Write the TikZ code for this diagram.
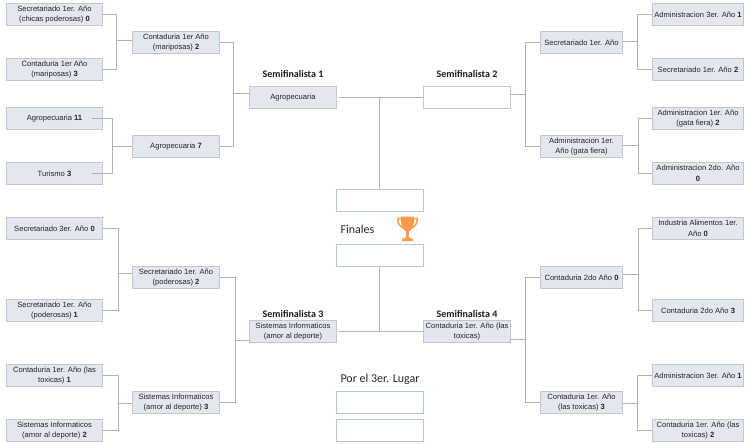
\documentclass[tikz,border=0pt]{standalone}
\usepackage{fontspec}
\setmainfont{Liberation Sans}
\newfontfamily\calfont{Carlito}
\definecolor{boxfill}{HTML}{E3E7F0}
\definecolor{boxline}{HTML}{C4C6CA}
\definecolor{blueline}{HTML}{B4C4DE}
\definecolor{conn}{HTML}{B0B0B0}
\definecolor{cup}{HTML}{F79A4B}
\newcommand{\bx}[7][teambox]{\node[#1,minimum width={(#5-#3)*1pt},minimum height={(#6-#4)*1pt}] (#2) at ({(#3+#5)/2},{(#4+#6)/2}) {#7};}
\begin{document}
\begin{tikzpicture}[x=1pt,y=-1pt,
  teambox/.style={draw=boxline,line width=1.4pt,fill=boxfill,inner sep=0pt,align=center,font=\fontsize{7.6}{10.5}\selectfont,text=black!85},
  whitebox/.style={draw=boxline,line width=1.4pt,fill=white,inner sep=0pt},
  finalbox/.style={draw=blueline,line width=1.4pt,fill=white,inner sep=0pt},
  link/.style={draw=conn,line width=1.2pt},
  semilabel/.style={font=\calfont\bfseries\fontsize{10}{12}\selectfont,inner sep=0pt,text=black!90},
  titlelabel/.style={font=\calfont\fontsize{12}{14}\selectfont,inner sep=0pt,text=black!85}]
\useasboundingbox (0,0) rectangle (750,444);
% left first round
\bx{a}{6.5}{3.5}{102.5}{25.5}{Secretariado 1er. Año\\(chicas poderosas) \textbf{0}}
\bx{b}{6.5}{58.5}{102.5}{80.5}{Contaduria 1er Año\\(mariposas) \textbf{3}}
\bx{c}{6.5}{107.5}{102.5}{129.5}{Agropecuaria \textbf{11}}
\bx{d}{6.5}{162.5}{102.5}{184.5}{Turismo \textbf{3}}
\bx{e}{6.5}{217.5}{102.5}{239.5}{Secretariado 3er. Año \textbf{0}}
\bx{f}{6.5}{299.5}{102.5}{321.5}{Secretariado 1er. Año\\(poderosas) \textbf{1}}
\bx{g}{6.5}{364.5}{102.5}{386.5}{Contaduria 1er. Año  (las\\toxicas) \textbf{1}}
\bx{h}{6.5}{419.5}{102.5}{441.5}{Sistemas Informaticos\\(amor al deporte) \textbf{2}}
% left second round
\bx{ab}{132.5}{31.5}{219.5}{53.5}{Contaduria 1er Año\\(mariposas) \textbf{2}}
\bx{cd}{132.5}{135.5}{219.5}{157.5}{Agropecuaria \textbf{7}}
\bx{ef}{132.5}{266.5}{219.5}{288.5}{Secretariado 1er. Año\\(poderosas) \textbf{2}}
\bx{gh}{132.5}{391.5}{219.5}{413.5}{Sistemas Informaticos\\(amor al deporte) \textbf{3}}
% semifinalists
\bx{s1}{249.5}{86.5}{336.5}{108.5}{Agropecuaria}
\bx[whitebox]{s2}{423.5}{86.5}{510.5}{108.5}{}
\bx{s3}{249.5}{320.5}{336.5}{342.5}{Sistemas Informaticos\\(amor al deporte)}
\bx{s4}{423.5}{320.5}{510.5}{342.5}{Contaduria 1er. Año  (las\\toxicas)}
% centre
\bx[finalbox]{f1}{336.5}{189.5}{423.5}{211.5}{}
\bx[finalbox]{f2}{336.5}{244.5}{423.5}{266.5}{}
\bx[finalbox]{t1}{336.5}{391.5}{423.5}{413.5}{}
\bx[finalbox]{t2}{336.5}{419.5}{423.5}{441.5}{}
% right second round
\bx{ij}{540.5}{31.5}{622.5}{53.5}{Secretariado 1er. Año}
\bx{kl}{540.5}{135.5}{622.5}{157.5}{Administracion 1er.\\Año (gata fiera)}
\bx{mn}{540.5}{266.5}{622.5}{288.5}{Contaduria 2do Año \textbf{0}}
\bx{op}{540.5}{391.5}{622.5}{413.5}{Contaduria 1er. Año\\(las toxicas) \textbf{3}}
% right first round
\bx{i}{652.5}{3.5}{743.5}{25.5}{Administracion 3er. Año \textbf{1}}
\bx{j}{652.5}{58.5}{743.5}{80.5}{Secretariado 1er. Año \textbf{2}}
\bx{k}{652.5}{107.5}{743.5}{129.5}{Administracion 1er. Año\\(gata fiera) \textbf{2}}
\bx{l}{652.5}{162.5}{743.5}{184.5}{Administracion 2do. Año\\\textbf{0}}
\bx{m}{652.5}{217.5}{743.5}{239.5}{Industria Alimentos 1er.\\Año \textbf{0}}
\bx{n}{652.5}{299.5}{743.5}{321.5}{Contaduria 2do Año \textbf{3}}
\bx{o}{652.5}{364.5}{743.5}{386.5}{Administracion 3er. Año \textbf{1}}
\bx{p}{652.5}{419.5}{743.5}{441.5}{Contaduria 1er. Año  (las\\toxicas) \textbf{2}}
% labels
\node[semilabel] (l1) at (293,74) {Semifinalista 1};
\node[semilabel] (l2) at (467,74) {Semifinalista 2};
\node[semilabel] (l3) at (293,314) {Semifinalista 3};
\node[semilabel] (l4) at (467,314) {Semifinalista 4};
\node[titlelabel] (fin) at (357.5,229.5) {Finales};
\node[titlelabel] (por) at (380,379) {Por el 3er. Lugar};
% junctions
\coordinate (jab) at (116.5,40.5);
\coordinate (jcd) at (112.5,146.5);
\coordinate (jef) at (118.5,273.5);
\coordinate (jgh) at (118.5,403.5);
\coordinate (js1) at (233.5,93.5);
\coordinate (js3) at (235.5,340.5);
\coordinate (js2) at (525.5,94.5);
\coordinate (js4) at (525.5,339.5);
\coordinate (jij) at (637.5,41.5);
\coordinate (jkl) at (638.5,145.5);
\coordinate (jmn) at (638.5,274.5);
\coordinate (jop) at (637.5,403.5);
% connectors
\draw[link] (a.east) -| (jab) (b.east) -| (jab) (jab) -- (ab.west |- jab);
\draw[link] ([xshift=-11pt]c.east) -| (jcd) ([xshift=-11pt]d.east) -| (jcd) (jcd) -- (cd.west |- jcd);
\draw[link] (e.east) -| (jef) (f.east) -| (jef) (jef) -- (ef.west |- jef);
\draw[link] (g.east) -| (jgh) (h.east) -| (jgh) (jgh) -- (gh.west |- jgh);
\draw[link] (ab.east) -| (js1) (cd.east) -| (js1) (js1) -- (s1.west |- js1);
\draw[link] (ef.east) -| (js3) (gh.east) -| (js3) (js3) -- (s3.west |- js3);
\draw[link] (s2.east |- js2) -- (js2) (ij.west) -| (js2) (kl.west) -| (js2);
\draw[link] (s4.east |- js4) -- (js4) (mn.west) -| (js4) (op.west) -| (js4);
\draw[link] (ij.east |- jij) -- (jij) (i.west) -| (jij) (j.west) -| (jij);
\draw[link] (kl.east |- jkl) -- (jkl) (k.west) -| (jkl) (l.west) -| (jkl);
\draw[link] (mn.east |- jmn) -- (jmn) (m.west) -| (jmn) (n.west) -| (jmn);
\draw[link] (op.east |- jop) -- (jop) (o.west) -| (jop) (p.west) -| (jop);
\draw[link] ([xshift=2pt]s1.east) -- (s2.west);
\draw[link] ([xshift=2pt]s3.east) -- (s4.west);
\draw[link] ([xshift=-0.5pt]s1.east -| f1.north) -- ([xshift=-0.5pt]f1.north);
\draw[link] ([xshift=-0.5pt]s3.east -| f2.south) -- ([xshift=-0.5pt]f2.south);
% trophy
\fill[cup] (400.5,216.5) -- (414.5,216.5) .. controls (414.5,225) and (412,230) .. (409,231.5) -- (408.6,236.5) .. controls (409,238) and (411,238.5) .. (413,239) -- (413,241) -- (402,241) -- (402,239) .. controls (404,238.5) and (406,238) .. (406.4,236.5) -- (406,231.5) .. controls (403,230) and (400.5,225) .. (400.5,216.5) -- cycle;
\draw[cup,line width=1.5pt] (400.5,218.5) -- (397.8,218.5) .. controls (397.6,223) and (399.5,226.5) .. (403.5,228);
\draw[cup,line width=1.5pt] (414.5,218.5) -- (417.2,218.5) .. controls (417.4,223) and (415.5,226.5) .. (411.5,228);
\end{tikzpicture}
\end{document}
